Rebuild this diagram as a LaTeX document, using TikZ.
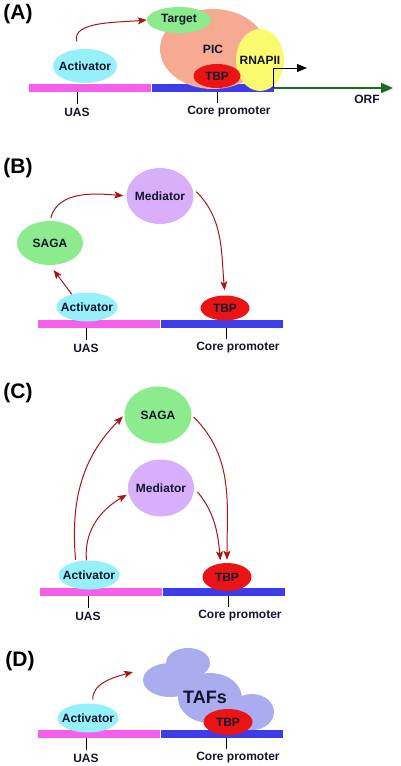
\documentclass[tikz,border=0pt]{standalone}
\usepackage{fontspec}
\setmainfont{Liberation Sans}
\usetikzlibrary{shapes.geometric,arrows.meta,calc}

\definecolor{uasc}{RGB}{245,95,235}
\definecolor{corec}{RGB}{60,60,235}
\definecolor{actc}{RGB}{150,240,250}
\definecolor{sagac}{RGB}{140,235,140}
\definecolor{medc}{RGB}{215,175,250}
\definecolor{picc}{RGB}{245,170,145}
\definecolor{polc}{RGB}{250,250,110}
\definecolor{tbpc}{RGB}{235,20,20}
\definecolor{tafc}{RGB}{170,172,240}
\definecolor{arrc}{RGB}{170,20,20}
\definecolor{orfc}{RGB}{25,110,25}
\definecolor{txt}{RGB}{20,20,45}

\begin{document}
\begin{tikzpicture}[x=1pt, y=-1pt,
font=\bfseries\fontsize{12}{14}\selectfont, text=txt,
oval/.style 2 args = {ellipse, inner sep=0pt, minimum width=#1, minimum height=#2},
act/.style = {oval={61pt}{29pt}, fill=actc, label=center:Activator},
tbp/.style = {oval={49pt}{25pt}, fill=tbpc, label=center:TBP},
bar/.style = {minimum width=122pt, minimum height=8pt, inner sep=0pt, anchor=west},
panel/.style = {font=\bfseries\fontsize{21}{24}\selectfont, text=black},
redarr/.style = {draw=arrc, line width=1pt, -{Stealth[length=9pt,width=7pt,inset=2pt]}}
]
\useasboundingbox (0,0) rectangle (400,766);

% ADN: UAS + promotor en los cuatro paneles
\foreach \p/\x/\y in {A/29/88, B/38/324, C/40/592, D/38/734}{
	\node[bar, fill=uasc] (uas\p) at (\x,\y) {};
	\node[bar, fill=corec] (core\p) at (uas\p.east) {};
	\node (uaslab\p) at (\x+48,\y+24) {UAS};
	\node (corelab\p) at (\x+200,\y+24) {Core promoter};
	\coordinate (ct\p) at (\x+188,\y+4);
	\draw[line width=0.8pt] (uaslab\p.north |- uas\p.south) -- (uaslab\p.north);
	\draw[line width=0.8pt] (ct\p) -- (ct\p |- corelab\p.north);
}

% (A)
\node[panel] (pa) at (18,14) {(A)};
\node[oval={106pt}{80pt}, fill=picc, label=center:PIC] (picA) at (213,49) {};
\node[oval={64pt}{26pt}, fill=sagac, label=center:Target] (tgtA) at (179,20) {};
\node[oval={48pt}{62pt}, fill=polc, label=center:RNAPII] (polA) at (260,60) {};
\node[tbp, minimum width=47pt, minimum height=24pt] (tbpA) at (217,76) {};
\node[act, minimum width=64pt, minimum height=34pt] (actA) at (85,66) {};
\coordinate (tssA) at (307,68);
\coordinate (orfA) at (393,88);
\node (orflab) at (367,99) {ORF};
\draw[line width=1pt, -{Triangle[length=10pt,width=8pt]}] (coreA.east) |- (tssA);
\draw[orfc, line width=2pt, -{Triangle[length=12pt,width=10pt]}] (coreA.east) -- (orfA);
\draw[redarr, shorten <=8pt] (actA.110) to[out=105,in=185] (tgtA.west);

% (B)
\node[panel] (pb) at (18,168) {(B)};
\node[oval={67pt}{56pt}, fill=medc, label=center:Mediator] (medB) at (160,196) {};
\node[oval={66pt}{44pt}, fill=sagac, label=center:SAGA] (sagaB) at (50,243) {};
\node[act] (actB) at (87,307) {};
\node[tbp] (tbpB) at (225,308) {};
\draw[redarr, shorten >=6pt] (actB.140) -- (sagaB.south);
\draw[redarr, shorten <=3pt, shorten >=3pt] (sagaB.north) to[out=75,in=175] (medB.west);
\draw[redarr, shorten <=6pt, shorten >=5pt] (medB.15) to[out=-45,in=95] (tbpB.north);

% (C)
\node[panel] (pc) at (18,393) {(C)};
\node[oval={67pt}{57pt}, fill=sagac, label=center:SAGA] (sagaC) at (158,415) {};
\node[oval={66pt}{57pt}, fill=medc, label=center:Mediator] (medC) at (161,488) {};
\node[act] (actC) at (89,575) {};
\node[tbp, minimum height=28pt] (tbpC) at (227,577) {};
\draw[redarr, shorten <=2pt, shorten >=2pt] (actC.135) to[out=95,in=225] (sagaC.west);
\draw[redarr, shorten >=2pt] (actC.100) to[out=95,in=210] (medC.190);
\draw[redarr, shorten <=5pt, shorten >=3pt] (medC.east) to[out=-50,in=95] (tbpC.115);
\draw[redarr, shorten <=3pt, shorten >=3pt] (sagaC.east) to[out=-45,in=90] (tbpC.north);

% (D)
\node[panel] (pd) at (20,661) {(D)};
\foreach \cx/\cy/\rx/\ry in {188/663/22/15, 170/680/27/17, 210/698/32/25, 252/712/22/18}
	\fill[tafc] (\cx,\cy) ellipse [x radius=\rx, y radius=\ry];
\node[font=\bfseries\fontsize{18}{20}\selectfont] (tafs) at (205,697) {TAFs};
\node[act] (actD) at (88,718) {};
\node[tbp, minimum height=26pt] (tbpD) at (228,722) {};
\coordinate (tafhit) at (133,672);
\draw[redarr, shorten <=4pt] (actD.70) to[out=95,in=195] (tafhit);
\end{tikzpicture}
\end{document}
